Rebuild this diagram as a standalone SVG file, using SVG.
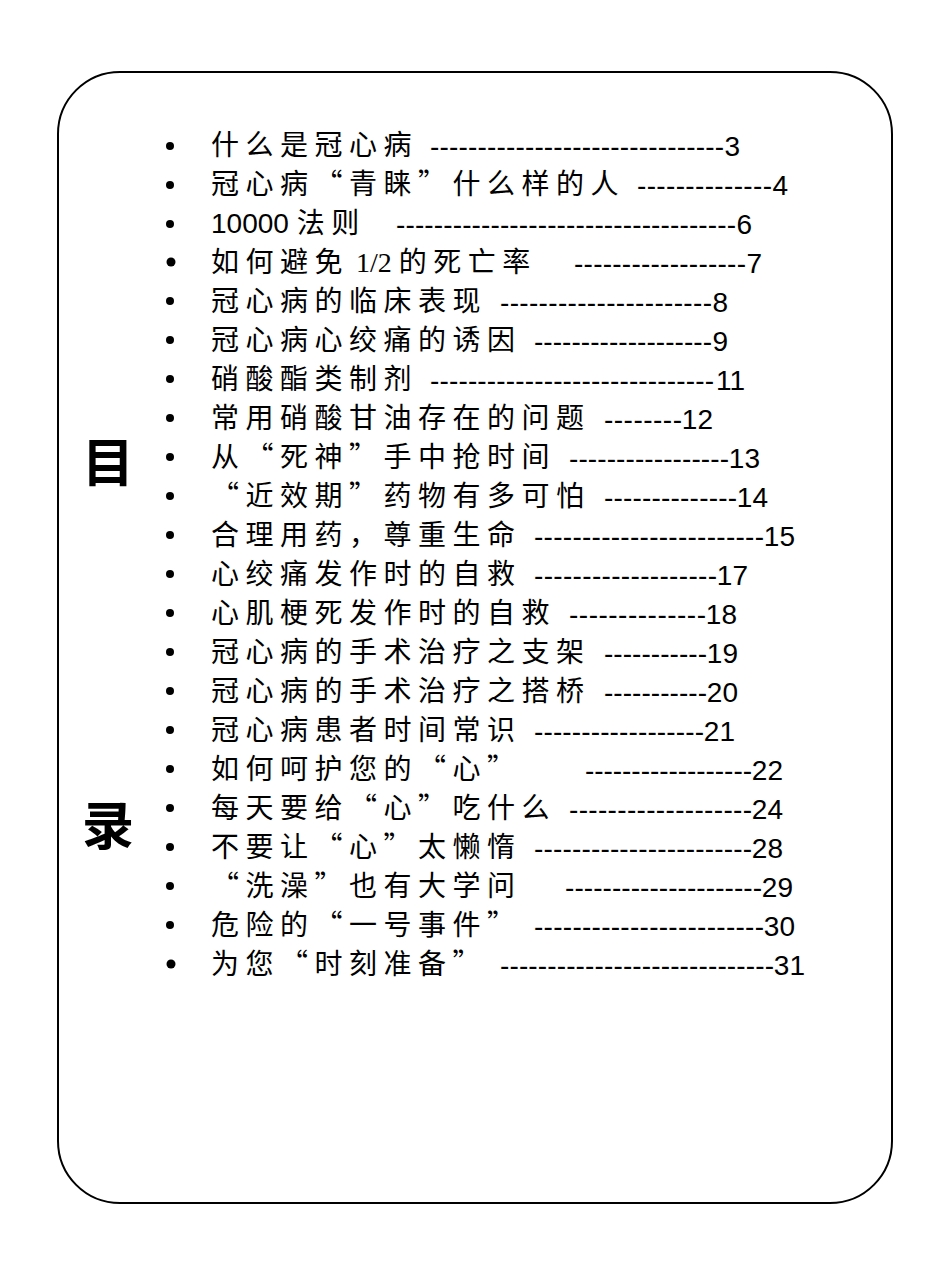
<svg xmlns="http://www.w3.org/2000/svg" width="950" height="1267" viewBox="0 0 950 1267">
<style>
.c{font-family:"Noto Sans CJK SC",sans-serif;font-size:28px;letter-spacing:6.5px;fill:#000}
.l{font-family:"Liberation Serif",serif;font-size:28px;letter-spacing:0}
.d{font-family:"Liberation Sans",Arial,sans-serif;font-size:28px;fill:#000}
.n{font-family:"Liberation Sans",Arial,sans-serif;font-size:28px;fill:#000;text-anchor:end}
.h{font-family:"Noto Sans CJK SC",sans-serif;font-size:52px;font-weight:bold;fill:#000}
</style>
<rect width="950" height="1267" fill="#fff"/>
<g id="frame"><rect x="58" y="72" width="834" height="1131" rx="62" fill="none" stroke="#000" stroke-width="2"/></g>
<g id="title"><text class="h" x="82" y="482">目</text><text class="h" x="82" y="845">录</text></g>
<g id="items">
<g fill="#000">
<circle cx="170" cy="146" r="4"/><circle cx="170" cy="185" r="4"/><circle cx="170" cy="224" r="4"/><circle cx="171" cy="262" r="4.5"/><circle cx="170" cy="301" r="4"/><circle cx="170" cy="340" r="4"/><circle cx="170" cy="379" r="4"/><circle cx="170" cy="418" r="4"/><circle cx="170" cy="457" r="4"/><circle cx="170" cy="496" r="4"/><circle cx="170" cy="535" r="4"/><circle cx="170" cy="574" r="4"/><circle cx="170" cy="613" r="4"/><circle cx="170" cy="652" r="4"/><circle cx="170" cy="691" r="4"/><circle cx="170" cy="730" r="4"/><circle cx="170" cy="769" r="4"/><circle cx="170" cy="808" r="4"/><circle cx="170" cy="847" r="4"/><circle cx="170" cy="886" r="4"/><circle cx="170" cy="925" r="4"/><circle cx="171" cy="964" r="4.5"/>
</g>
<text class="c" x="211" y="155">什么是冠心病</text><text class="d" x="430" y="156" textLength="294" lengthAdjust="spacing">-------------------------------</text><text class="n" x="740" y="156">3</text>
<text class="c" x="211" y="194">冠心病“青睐”什么样的人</text><text class="d" x="637" y="195" textLength="135" lengthAdjust="spacing">--------------</text><text class="n" x="788" y="195">4</text>
<text class="d" x="211" y="233">10000 <tspan class="c">法则</tspan></text><text class="d" x="396" y="234" textLength="340" lengthAdjust="spacing">------------------------------------</text><text class="n" x="752" y="234">6</text>
<text class="c" x="211" y="272">如何避免<tspan class="l"> 1/2 </tspan>的死亡率</text><text class="d" x="574" y="273" textLength="172" lengthAdjust="spacing">------------------</text><text class="n" x="762" y="273">7</text>
<text class="c" x="211" y="311">冠心病的临床表现</text><text class="d" x="500" y="312" textLength="212" lengthAdjust="spacing">----------------------</text><text class="n" x="728" y="312">8</text>
<text class="c" x="211" y="350">冠心病心绞痛的诱因</text><text class="d" x="534" y="351" textLength="178" lengthAdjust="spacing">-------------------</text><text class="n" x="728" y="351">9</text>
<text class="c" x="211" y="389">硝酸酯类制剂</text><text class="d" x="430" y="390" textLength="284" lengthAdjust="spacing">------------------------------</text><text class="n" x="745" y="390">11</text>
<text class="c" x="211" y="428">常用硝酸甘油存在的问题</text><text class="d" x="604" y="429" textLength="78" lengthAdjust="spacing">--------</text><text class="n" x="713" y="429">12</text>
<text class="c" x="211" y="467">从“死神”手中抢时间</text><text class="d" x="569" y="468" textLength="160" lengthAdjust="spacing">-----------------</text><text class="n" x="760" y="468">13</text>
<text class="c" x="211" y="506">“近效期”药物有多可怕</text><text class="d" x="604" y="507" textLength="133" lengthAdjust="spacing">--------------</text><text class="n" x="768" y="507">14</text>
<text class="c" x="211" y="545">合理用药，尊重生命</text><text class="d" x="534" y="546" textLength="230" lengthAdjust="spacing">------------------------</text><text class="n" x="795" y="546">15</text>
<text class="c" x="211" y="584">心绞痛发作时的自救</text><text class="d" x="534" y="585" textLength="183" lengthAdjust="spacing">-------------------</text><text class="n" x="748" y="585">17</text>
<text class="c" x="211" y="623">心肌梗死发作时的自救</text><text class="d" x="569" y="624" textLength="137" lengthAdjust="spacing">--------------</text><text class="n" x="737" y="624">18</text>
<text class="c" x="211" y="662">冠心病的手术治疗之支架</text><text class="d" x="604" y="663" textLength="103" lengthAdjust="spacing">-----------</text><text class="n" x="738" y="663">19</text>
<text class="c" x="211" y="701">冠心病的手术治疗之搭桥</text><text class="d" x="604" y="702" textLength="103" lengthAdjust="spacing">-----------</text><text class="n" x="738" y="702">20</text>
<text class="c" x="211" y="740">冠心病患者时间常识</text><text class="d" x="534" y="741" textLength="170" lengthAdjust="spacing">------------------</text><text class="n" x="735" y="741">21</text>
<text class="c" x="211" y="779">如何呵护您的“心”</text><text class="d" x="585" y="780" textLength="167" lengthAdjust="spacing">------------------</text><text class="n" x="783" y="780">22</text>
<text class="c" x="211" y="818">每天要给“心”吃什么</text><text class="d" x="569" y="819" textLength="183" lengthAdjust="spacing">-------------------</text><text class="n" x="783" y="819">24</text>
<text class="c" x="211" y="857">不要让“心”太懒惰</text><text class="d" x="534" y="858" textLength="218" lengthAdjust="spacing">-----------------------</text><text class="n" x="783" y="858">28</text>
<text class="c" x="211" y="896">“洗澡”也有大学问</text><text class="d" x="565" y="897" textLength="197" lengthAdjust="spacing">---------------------</text><text class="n" x="793" y="897">29</text>
<text class="c" x="211" y="935">危险的“一号事件”</text><text class="d" x="534" y="936" textLength="230" lengthAdjust="spacing">------------------------</text><text class="n" x="795" y="936">30</text>
<text class="c" x="211" y="974">为您“时刻准备”</text><text class="d" x="500" y="975" textLength="274" lengthAdjust="spacing">-----------------------------</text><text class="n" x="805" y="975">31</text>
</g>
</svg>
